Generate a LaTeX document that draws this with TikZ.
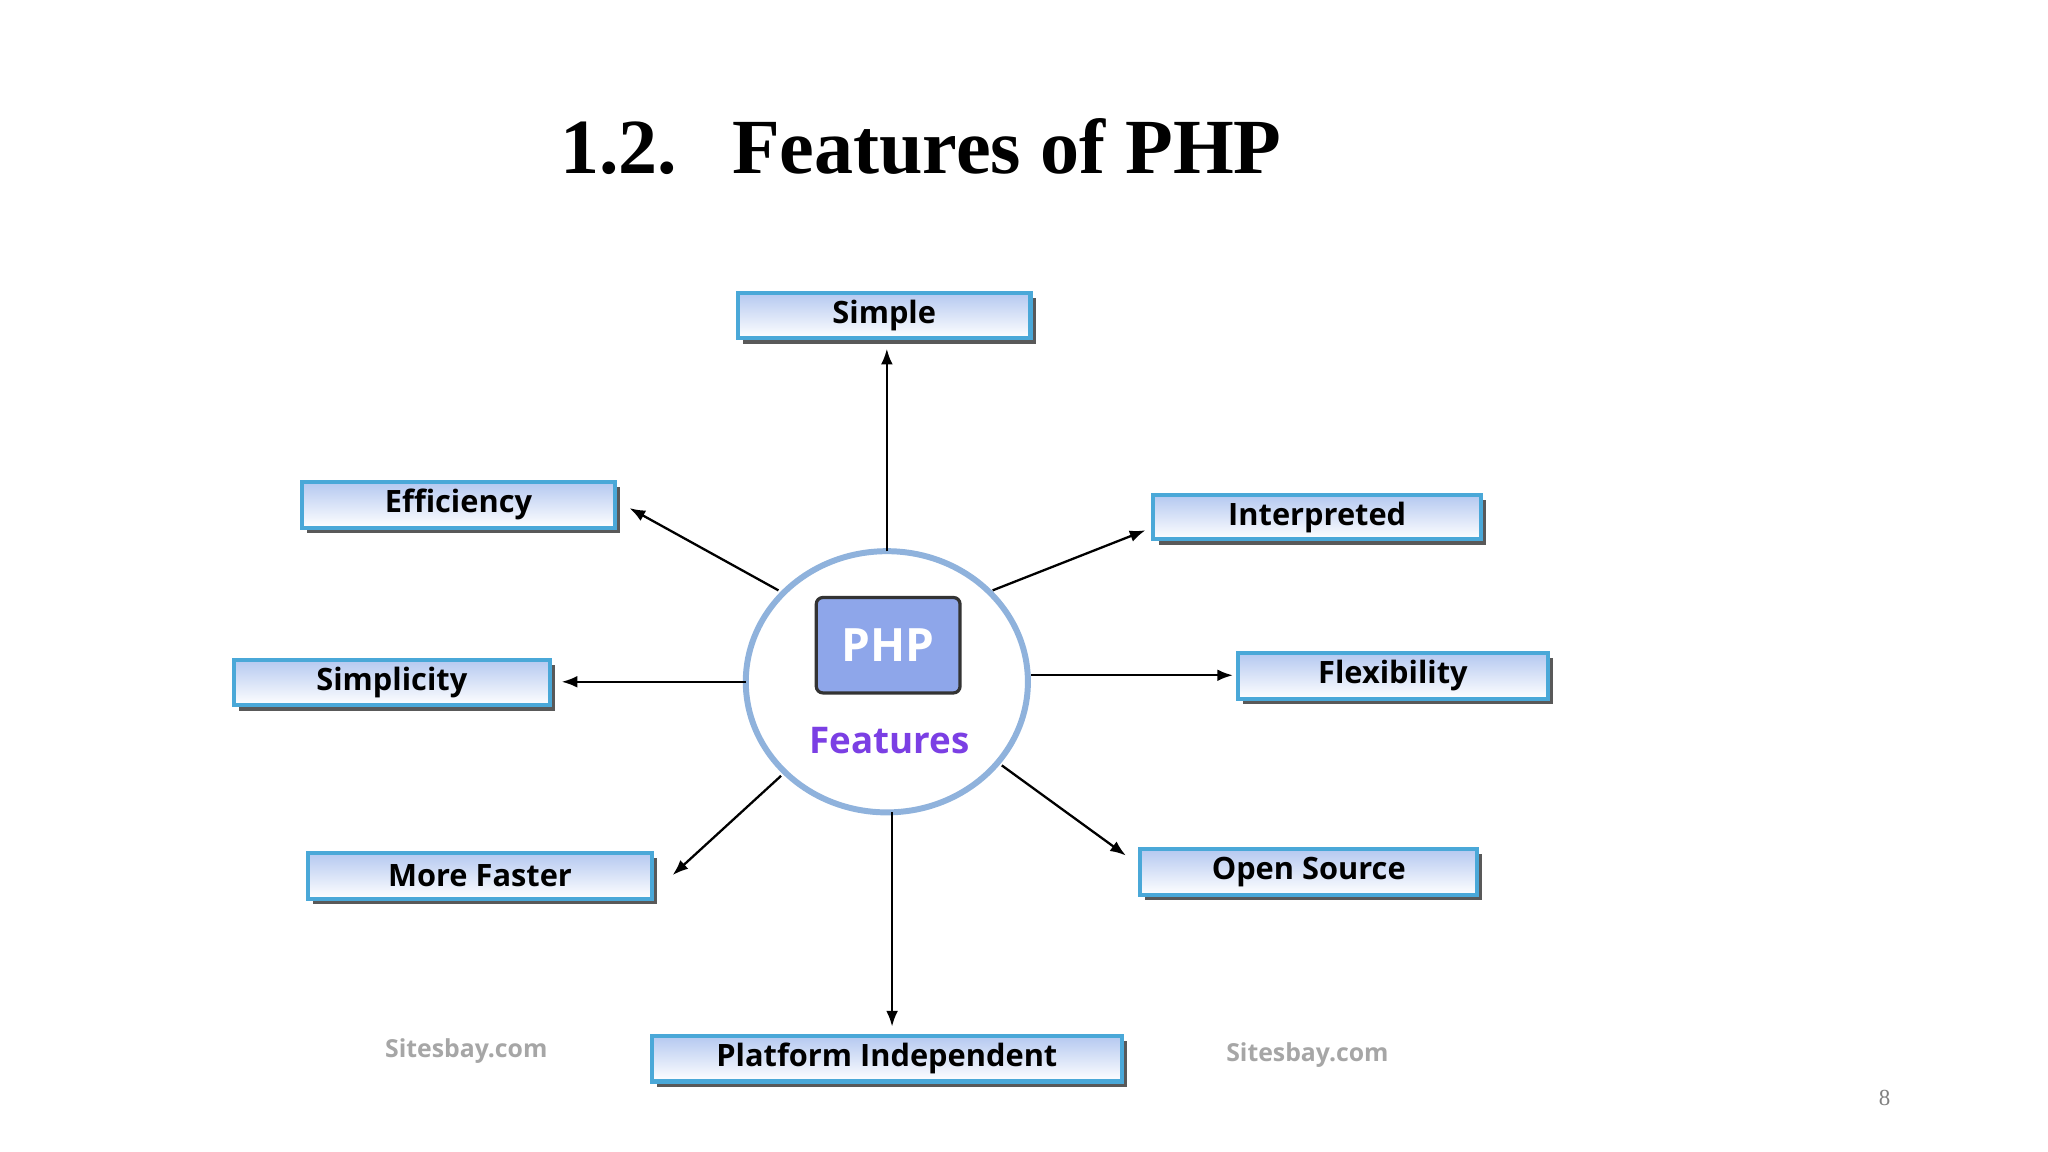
\documentclass[tikz,border=0pt]{standalone}
\usepackage{fontspec}
\setmainfont{Liberation Serif}
\newfontfamily\boxfont{Open Sans}
\usetikzlibrary{arrows.meta,shadows}
\definecolor{bord}{HTML}{4AA8D8}
\definecolor{topb}{HTML}{B4C8F0}
\definecolor{phpf}{HTML}{8EA6EA}
\definecolor{feat}{HTML}{7B3FE4}
\definecolor{circ}{HTML}{8FB2DC}
\begin{document}
\begin{tikzpicture}[x=0.01cm,y=-0.01cm,
  feat/.style={draw=bord,line width=0.9pt,top color=topb,bottom color=white,
    font=\boxfont\bfseries\fontsize{6.7pt}{7pt}\selectfont,
    drop shadow={shadow xshift=0.04cm,shadow yshift=-0.04cm,fill=black!65,opacity=1},
    inner sep=0pt},
  arr/.style={-{Latex[length=0.12cm,width=0.09cm]},line width=0.5pt},
  wm/.style={font=\boxfont\bfseries\fontsize{5.4pt}{6pt}\selectfont,text=black!35}]
\useasboundingbox (0,0) rectangle (1568,882);
\node[font=\bfseries\fontsize{17pt}{20pt}\selectfont] (title) at (705,112) {1.2.\hspace{0.42cm}Features of PHP};
\def\fb#1#2#3#4#5#6{\node[feat,minimum width=#4*0.01cm-#2*0.01cm,minimum height=#5*0.01cm-#3*0.01cm] (#1) at ({(#2+#4)/2},{(#3+#5)/2}) {#6};}
\fb{simple}{565}{224}{789}{259}{Simple}
\fb{eff}{231}{369}{471}{404}{Efficiency}
\fb{interp}{883}{379}{1134}{413}{Interpreted}
\fb{simpl}{179}{505}{421}{540}{Simplicity}
\fb{flex}{948}{500}{1185}{535}{Flexibility}
\fb{fast}{236}{653}{499}{688}{More Faster}
\fb{open}{873}{650}{1131}{685}{Open Source}
\fb{plat}{499}{793}{859}{828}{Platform Independent}
\draw[circ,line width=1.3pt,fill=white] (679,522) ellipse [x radius=108,y radius=100];
\node[draw=black!80,line width=0.7pt,fill=phpf,rounded corners=0.05cm,minimum width=1.1cm,minimum height=0.73cm,
  text=white,font=\boxfont\bfseries\fontsize{10pt}{11pt}\selectfont] (php) at (680,494) {PHP};
\node[text=feat,font=\boxfont\bfseries\fontsize{8pt}{9pt}\selectfont] (ft) at (681,567) {Features};
\coordinate (s1) at (679,422); \coordinate (e1) at (679,267);
\coordinate (s2) at (596,452); \coordinate (e2) at (482,389);
\coordinate (s3) at (760,452); \coordinate (e3) at (877,406);
\coordinate (s4) at (571,522); \coordinate (e4) at (430,522);
\coordinate (s5) at (789,517); \coordinate (e5) at (944,517);
\coordinate (s6) at (598,594); \coordinate (e6) at (515,670);
\coordinate (s7) at (767,586); \coordinate (e7) at (862,655);
\coordinate (s8) at (683,622); \coordinate (e8) at (683,786);
\foreach \i in {1,...,8} {\draw[arr] (s\i) -- (e\i);}
\node[wm] (w1) at (357,805) {Sitesbay.com};
\node[wm] (w2) at (1001,808) {Sitesbay.com};
\node[font=\fontsize{5pt}{6pt}\selectfont,text=black!50] (pg) at (1443,841) {8};
\end{tikzpicture}
\end{document}
